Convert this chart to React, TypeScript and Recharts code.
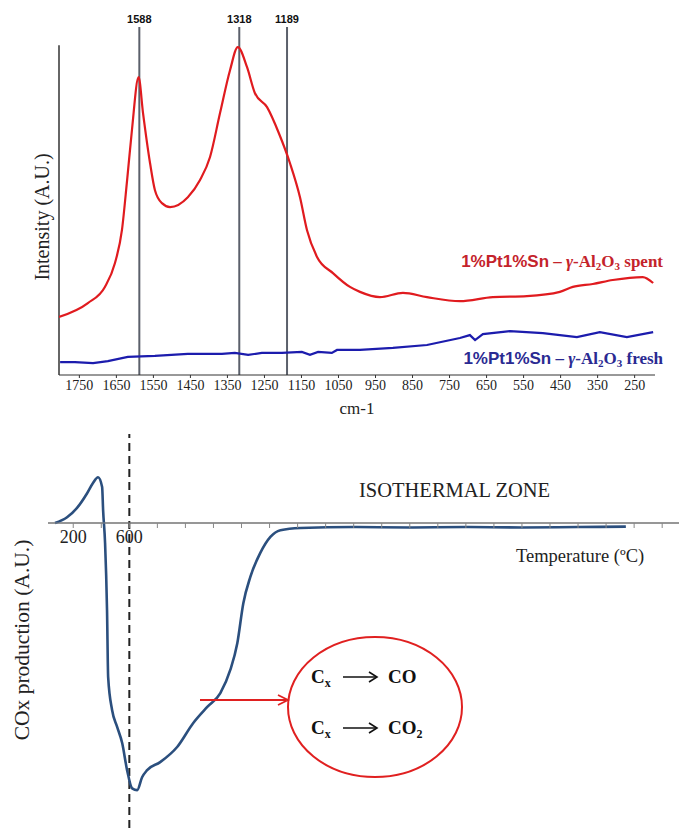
import { LineChart, Line, XAxis, YAxis, ReferenceLine } from 'recharts'

// Raman spectra (wavenumber in cm-1, intensity in arbitrary units)
const spentWavenumber = [1805, 1727, 1681, 1654, 1635, 1621, 1608, 1590, 1578, 1559, 1546, 1527, 1505, 1457, 1424, 1397, 1370, 1343, 1322, 1297, 1276, 1243, 1211, 1181, 1154, 1135, 1108, 1065, 1019, 992, 938, 876, 811, 722, 633, 541, 452, 417, 363, 309, 228, 200]
const spentIntensity = [17.6, 21.8, 26.7, 33.9, 43.9, 59.1, 74.2, 90.3, 79.4, 64.2, 56.1, 52.1, 50.9, 53.9, 59.1, 66.1, 79.4, 92.4, 99.4, 93.3, 85.5, 81.2, 73.3, 64.2, 53.9, 43.9, 35.8, 30.9, 26.7, 25.2, 23.6, 24.9, 23.6, 22.4, 23.6, 23.9, 25.2, 26.7, 27.6, 28.8, 29.7, 27.9]
const freshWavenumber = [1802, 1762, 1713, 1673, 1619, 1546, 1457, 1365, 1330, 1294, 1257, 1203, 1149, 1127, 1105, 1068, 1054, 992, 903, 811, 722, 695, 681, 660, 587, 498, 406, 344, 271, 200]
const freshIntensity = [3.9, 3.9, 3.6, 4.2, 5.5, 5.8, 6.4, 6.4, 6.7, 6.1, 6.7, 6.7, 7.0, 6.1, 7.0, 6.7, 7.6, 7.6, 8.2, 9.1, 11.2, 12.1, 10.6, 12.4, 13.3, 12.7, 11.5, 13.0, 11.5, 13.0]
const wavenumberTicks = [1750, 1650, 1550, 1450, 1350, 1250, 1150, 1050, 950, 850, 750, 650, 550, 450, 350, 250]
const peakPositions = [1588, 1318, 1189]

// TPO profile (temperature in ºC, COx production in A.U.)
const temperature = [70, 156, 227, 299, 341, 377, 406, 413, 427, 441, 449, 477, 513, 549, 584, 620, 656, 691, 727, 820, 941, 1056, 1156, 1249, 1320, 1370, 1413, 1463, 1534, 1606, 1677, 1820, 2200, 2600, 3000, 3400, 3800, 4141]
const coxProduction = [0, 0.13, 0.34, 0.67, 0.9, 1.03, 0.81, 0.29, -0.45, -1.96, -3.46, -4.2, -4.58, -4.94, -5.55, -5.96, -6.0, -5.71, -5.55, -5.37, -5.03, -4.49, -4.13, -3.82, -3.3, -2.7, -1.8, -1.21, -0.67, -0.31, -0.16, -0.11, -0.09, -0.1, -0.09, -0.1, -0.09, -0.08]
const temperatureTicks = [200, 400, 600, 800, 1000, 1200, 1400, 1600, 1800, 2000, 2200, 2400, 2600, 2800, 3000, 3200, 3400, 3600, 3800, 4000, 4200, 4400]
const labelledTemperatures = [200, 600]
const coxTicks = [-6, -5, -4, -3, -2, -1, 0, 1, 2]

const spentRows = spentWavenumber.map((w, i) => ({ w, v: spentIntensity[i] }))
const freshRows = freshWavenumber.map((w, i) => ({ w, v: freshIntensity[i] }))
const tpoRows = temperature.map((t, i) => ({ t, v: coxProduction[i] }))

const serif = '"Liberation Serif", "Times New Roman", serif'
const sans = '"Liberation Sans", Arial, sans-serif'

function SampleLabel({ x, y, color, name }: { x: number; y: number; color: string; name: string }) {
  return (
    <text x={x} y={y} textAnchor="end" fill={color} fontWeight="bold" fontSize={17} fontFamily={serif}>
      <tspan fontFamily={sans}>1%Pt1%Sn</tspan>
      <tspan> – </tspan>
      <tspan fontStyle="italic">γ</tspan>
      <tspan>-Al</tspan>
      <tspan fontSize={11} dy={3}>2</tspan>
      <tspan dy={-3}>O</tspan>
      <tspan fontSize={11} dy={3}>3</tspan>
      <tspan dy={-3}>{' ' + name}</tspan>
    </text>
  )
}

function ReactionLine({ y, product, sub }: { y: number; product: string; sub?: string }) {
  return (
    <g fontFamily={serif} fontWeight="bold" fontSize={19} fill="#111">
      <text x={311} y={y}>
        C<tspan fontSize={12} dy={4}>x</tspan>
      </text>
      <line x1={343} y1={y - 6} x2={376} y2={y - 6} stroke="#111" strokeWidth={1.6} />
      <path d={`M369 ${y - 11} L377 ${y - 6} L369 ${y - 1}`} fill="none" stroke="#111" strokeWidth={1.6} />
      <text x={388} y={y}>
        {product}
        {sub && <tspan fontSize={12} dy={4}>{sub}</tspan>}
      </text>
    </g>
  )
}

export default function App() {
  return (
    <div style={{ position: 'absolute', left: 0, top: 0, width: 679, height: 828, background: '#fff' }}>
      {/* Raman spectra */}
      <div style={{ position: 'absolute', left: 0, top: 0 }}>
        <LineChart width={679} height={420} margin={{ top: 27, right: 24, left: 59, bottom: 0 }}>
          <XAxis
            dataKey="w"
            type="number"
            domain={[195, 1805]}
            reversed
            ticks={wavenumberTicks}
            allowDataOverflow
            height={45}
            tickSize={3}
            stroke="#333"
            tick={{ fontSize: 14, fontFamily: serif, fill: '#222' }}
            label={{ value: 'cm-1', position: 'insideBottom', offset: 6, fontSize: 17, fontFamily: serif, fill: '#222' }}
          />
          <YAxis hide domain={[0, 105.5]} />
          <ReferenceLine segment={[{ x: 1805, y: 0 }, { x: 1805, y: 100 }]} stroke="#333" strokeWidth={1.5} />
          {peakPositions.map((p) => (
            <ReferenceLine
              key={p}
              x={p}
              stroke="#5b606b"
              strokeWidth={2}
              label={{ value: String(p), position: 'top', offset: 4, fontSize: 11, fontWeight: 'bold', fontFamily: sans, fill: '#111' }}
            />
          ))}
          <Line data={freshRows} dataKey="v" type="linear" stroke="#1c1cad" strokeWidth={2.2} dot={false} isAnimationActive={false} />
          <Line data={spentRows} dataKey="v" type="monotone" stroke="#e01b1f" strokeWidth={2.2} dot={false} isAnimationActive={false} />
        </LineChart>
      </div>

      {/* TPO profile */}
      <div style={{ position: 'absolute', left: 0, top: 410 }}>
        <LineChart data={tpoRows} width={679} height={418} margin={{ top: 24, right: 0, left: 48, bottom: 0 }}>
          <XAxis hide dataKey="t" type="number" domain={[20, 4520]} />
          <YAxis
            width={0}
            domain={[-6.85, 2]}
            ticks={coxTicks}
            allowDataOverflow
            stroke="#777"
            tickSize={4}
            tickFormatter={(v: number) => (v === 0 ? '0' : '')}
            tick={{ fontSize: 18, fontFamily: serif, fill: '#222' }}
          />
          <ReferenceLine y={0} stroke="#888" strokeWidth={1.5} />
          <ReferenceLine x={600} stroke="#222" strokeWidth={2} strokeDasharray="8 5" />
          <Line dataKey="v" type="monotone" stroke="#2b4f7e" strokeWidth={2.6} dot={false} isAnimationActive={false} />
        </LineChart>
      </div>

      {/* temperature axis drawn along the zero line */}
      <div style={{ position: 'absolute', left: 0, top: 410 }}>
        <LineChart data={tpoRows} width={679} height={143} margin={{ top: 24, right: 0, left: 48, bottom: 0 }}>
          <XAxis
            dataKey="t"
            type="number"
            domain={[20, 4520]}
            ticks={temperatureTicks}
            height={30}
            stroke="#888"
            tickSize={5}
            tickFormatter={(v: number) => (labelledTemperatures.includes(v) ? String(v) : '')}
            tick={{ fontSize: 18, fontFamily: serif, fill: '#222' }}
          />
          <YAxis hide domain={[0, 1]} />
        </LineChart>
      </div>

      {/* titles and annotations */}
      <svg width={679} height={828} style={{ position: 'absolute', left: 0, top: 0, pointerEvents: 'none' }}>
        <text x={42} y={217} transform="rotate(-90 42 217)" textAnchor="middle" dominantBaseline="central" fontSize={20} fontFamily={serif} fill="#222">
          Intensity (A.U.)
        </text>
        <SampleLabel x={663} y={267} color="#c4232b" name="spent" />
        <SampleLabel x={663} y={364} color="#2a2a92" name="fresh" />

        <text x={22} y={640} transform="rotate(-90 22 640)" textAnchor="middle" dominantBaseline="central" fontSize={21.5} fontFamily={serif} fill="#222">
          COx production (A.U.)
        </text>
        <text x={359} y={497} fontSize={20.5} fontFamily={serif} fill="#222">ISOTHERMAL ZONE</text>
        <text x={516} y={562} fontSize={18.5} fontFamily={serif} fill="#222">Temperature (ºC)</text>

        <line x1={200} y1={700} x2={286} y2={700} stroke="#e02020" strokeWidth={1.8} />
        <path d="M278 695 L288 700 L278 705" fill="none" stroke="#e02020" strokeWidth={1.8} />
        <ellipse cx={375} cy={707} rx={87} ry={70} fill="none" stroke="#e02020" strokeWidth={2} />
        <ReactionLine y={683} product="CO" />
        <ReactionLine y={734} product="CO" sub="2" />
      </svg>
    </div>
  )
}
